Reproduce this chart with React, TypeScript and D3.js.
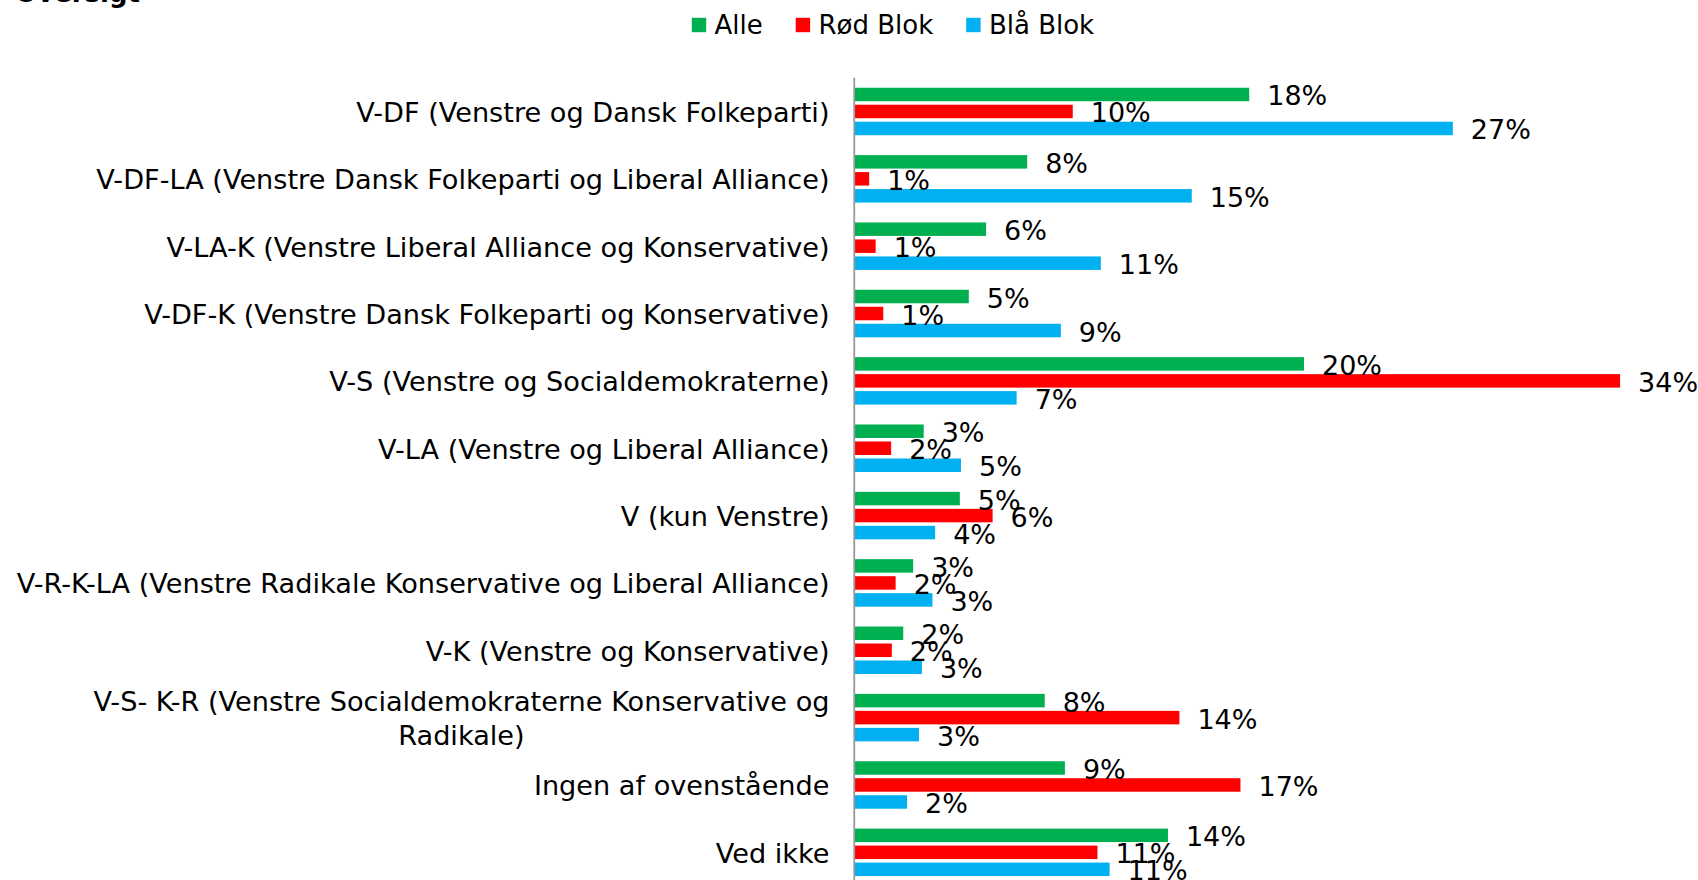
import React, { useEffect, useRef } from "react";
import * as d3 from "d3";

const categories = [
  "V-DF (Venstre og Dansk Folkeparti)",
  "V-DF-LA (Venstre Dansk Folkeparti og Liberal Alliance)",
  "V-LA-K (Venstre Liberal Alliance og Konservative)",
  "V-DF-K (Venstre Dansk Folkeparti og Konservative)",
  "V-S (Venstre og Socialdemokraterne)",
  "V-LA (Venstre og Liberal Alliance)",
  "V (kun Venstre)",
  "V-R-K-LA (Venstre Radikale Konservative og Liberal Alliance)",
  "V-K (Venstre og Konservative)",
  "V-S- K-R (Venstre Socialdemokraterne Konservative og Radikale)",
  "Ingen af ovenstående",
  "Ved ikke",
];

const seriesNames = ["Alle", "Rød Blok", "Blå Blok"];
const seriesColors = ["#00B050", "#FF0000", "#00B0F0"];

const alle = [17.56, 7.67, 5.84, 5.07, 20.0, 3.06, 4.67, 2.59, 2.15, 8.45, 9.35, 13.94];
const roedBlok = [9.7, 0.63, 0.92, 1.26, 34.08, 1.61, 6.13, 1.81, 1.64, 14.45, 17.17, 10.8];
const blaaBlok = [26.63, 15.0, 10.95, 9.17, 7.2, 4.72, 3.57, 3.45, 2.98, 2.85, 2.32, 11.34];

const titleText = "Oversigt";

export default function App() {
  const ref = useRef<SVGSVGElement>(null);

  useEffect(() => {
    const svg = d3.select(ref.current as SVGSVGElement);
    svg.selectAll("*").remove();
    const font = "'DejaVu Sans', Verdana, sans-serif";
    const catSize = 27.15;
    const seriesData = [alle, roedBlok, blaaBlok];

    const x = d3.scaleLinear().domain([0, 35]).range([855, 855 + 35 * 22.45]);
    const y0 = d3
      .scaleBand<string>()
      .domain(categories)
      .range([77.8, 886])
      .paddingInner(0.243)
      .paddingOuter(0.1215);
    const y1 = d3.scaleBand<string>().domain(seriesNames).range([0, y0.bandwidth()]);

    // title (cut off at top)
    svg
      .append("text")
      .attr("x", 15)
      .attr("y", 2)
      .attr("font-family", font)
      .attr("font-weight", "bold")
      .attr("font-size", 26)
      .attr("fill", "#000")
      .text(titleText);

    // legend
    const legend = svg.append("g");
    let lx = 0;
    seriesNames.forEach((name, i) => {
      const g = legend.append("g").attr("transform", `translate(${lx},0)`);
      g.append("rect")
        .attr("x", 0)
        .attr("y", 17.8)
        .attr("width", 14.4)
        .attr("height", 14.4)
        .attr("fill", seriesColors[i]);
      const t = g
        .append("text")
        .attr("x", 22.7)
        .attr("y", 34)
        .attr("font-family", font)
        .attr("font-size", 26)
        .attr("fill", "#000")
        .text(name);
      const w = (t.node() as SVGTextElement).getComputedTextLength();
      lx += 22.7 + w + 33;
    });
    const legendW = lx - 33;
    legend.attr("transform", `translate(${893 - legendW / 2},0)`);

    // bars
    seriesData.forEach((vals, si) => {
      svg
        .append("g")
        .selectAll("rect")
        .data(vals)
        .join("rect")
        .attr("x", x(0))
        .attr("y", (_d, ci) => (y0(categories[ci]) as number) + (y1(seriesNames[si]) as number) + 1.75)
        .attr("width", (d) => x(d) - x(0))
        .attr("height", y1.bandwidth() - 3.5)
        .attr("fill", seriesColors[si]);
    });

    // axis line
    svg
      .append("line")
      .attr("x1", 854.25)
      .attr("x2", 854.25)
      .attr("y1", y0.range()[0])
      .attr("y2", y0.range()[1])
      .attr("stroke", "#999")
      .attr("stroke-width", 1.8);

    // category labels
    const labelRight = 829.5;
    const maxW = 850;
    const baseOff = 10.5;
    categories.forEach((cat) => {
      const cy = (y0(cat) as number) + y0.bandwidth() / 2;
      const probe = svg
        .append("text")
        .attr("font-family", font)
        .attr("font-size", catSize)
        .text(cat);
      const full = (probe.node() as SVGTextElement).getComputedTextLength();
      if (full <= maxW) {
        probe
          .attr("x", labelRight)
          .attr("y", cy + baseOff)
          .attr("text-anchor", "end")
          .attr("fill", "#000");
        return;
      }
      probe.remove();
      const words = cat.split(" ");
      const lines: string[] = [];
      let cur = "";
      const meas = svg.append("text").attr("font-family", font).attr("font-size", catSize);
      words.forEach((wd) => {
        const test = cur ? cur + " " + wd : wd;
        meas.text(test);
        if ((meas.node() as SVGTextElement).getComputedTextLength() > maxW && cur) {
          lines.push(cur);
          cur = wd;
        } else cur = test;
      });
      lines.push(cur);
      let bw = 0;
      lines.forEach((l) => {
        meas.text(l);
        bw = Math.max(bw, (meas.node() as SVGTextElement).getComputedTextLength());
      });
      meas.remove();
      const lh = 33.6;
      lines.forEach((l, li) => {
        svg
          .append("text")
          .attr("x", labelRight - bw / 2)
          .attr("y", cy + baseOff + (li - (lines.length - 1) / 2) * lh)
          .attr("text-anchor", "middle")
          .attr("font-family", font)
          .attr("font-size", catSize)
          .attr("fill", "#000")
          .text(l);
      });
    });

    // value labels
    seriesData.forEach((vals, si) => {
      svg
        .append("g")
        .selectAll("text")
        .data(vals)
        .join("text")
        .attr("x", (d) => x(d) + 18)
        .attr(
          "y",
          (_d, ci) =>
            (y0(categories[ci]) as number) + (y1(seriesNames[si]) as number) + y1.bandwidth() / 2 + 1.5
        )
        .attr("dominant-baseline", "central")
        .attr("font-family", font)
        .attr("font-size", 27)
        .attr("fill", "#000")
        .text((d) => `${Math.round(d)}%`);
    });
  }, []);

  return (
    <svg
      ref={ref}
      width={1698}
      height={880}
      style={{ position: "absolute", left: 0, top: 0, background: "#fff" }}
    />
  );
}
